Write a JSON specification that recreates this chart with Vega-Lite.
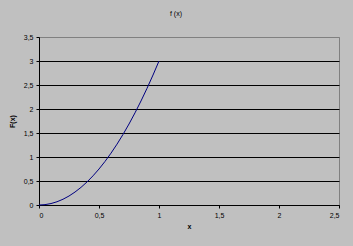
{
  "$schema": "https://vega.github.io/schema/vega-lite/v6.json",
  "width": 300,
  "height": 168,
  "autosize": {"type": "none"},
  "padding": {"left": 39, "top": 37, "right": 14, "bottom": 41},
  "background": "#c0c0c0",
  "config": {
    "locale": {"number": {"decimal": ",", "thousands": ".", "grouping": [3], "currency": ["", ""]}},
    "font": "Liberation Sans",
    "view": {"stroke": "#808080", "strokeWidth": 1, "fill": "#c0c0c0"},
    "axis": {
      "labelFont": "Liberation Sans",
      "labelFontSize": 7,
      "labelColor": "#000000",
      "titleFont": "Liberation Sans",
      "titleFontSize": 7,
      "titleFontWeight": "bold",
      "titleColor": "#000000",
      "domainColor": "#000000",
      "tickColor": "#000000",
      "tickSize": 3,
      "gridOpacity": 1,
      "gridWidth": 1
    }
  },
  "title": {
    "text": "f (x)",
    "fontSize": 7,
    "fontWeight": "normal",
    "font": "Liberation Sans",
    "color": "#000000",
    "anchor": "middle",
    "frame": "group",
    "dx": -13,
    "offset": 16
  },
  "data": {
    "values": [
      {"x": 0, "y": 0},
      {"x": 0.05, "y": 0.0075},
      {"x": 0.1, "y": 0.03},
      {"x": 0.15, "y": 0.0675},
      {"x": 0.2, "y": 0.12},
      {"x": 0.25, "y": 0.1875},
      {"x": 0.3, "y": 0.27},
      {"x": 0.35, "y": 0.3675},
      {"x": 0.4, "y": 0.48},
      {"x": 0.45, "y": 0.6075},
      {"x": 0.5, "y": 0.75},
      {"x": 0.55, "y": 0.9075},
      {"x": 0.6, "y": 1.08},
      {"x": 0.65, "y": 1.2675},
      {"x": 0.7, "y": 1.47},
      {"x": 0.75, "y": 1.6875},
      {"x": 0.8, "y": 1.92},
      {"x": 0.85, "y": 2.1675},
      {"x": 0.9, "y": 2.43},
      {"x": 0.95, "y": 2.7075},
      {"x": 1, "y": 3}
    ]
  },
  "mark": {"type": "line", "color": "#000080", "strokeWidth": 1},
  "encoding": {
    "x": {
      "field": "x",
      "type": "quantitative",
      "title": "x",
      "scale": {"domain": [0, 2.5], "nice": false},
      "axis": {"values": [0, 0.5, 1, 1.5, 2, 2.5], "format": ".1~f", "grid": false, "labelPadding": 3, "titlePadding": 4}
    },
    "y": {
      "field": "y",
      "type": "quantitative",
      "title": "F(x)",
      "scale": {"domain": [0, 3.5], "nice": false},
      "axis": {
        "values": [0, 0.5, 1, 1.5, 2, 2.5, 3, 3.5],
        "format": ".1~f",
        "grid": true,
        "gridColor": {"condition": {"test": "datum.value >= 3.5", "value": "#808080"}, "value": "#000000"},
        "labelPadding": 3,
        "titlePadding": 8
      }
    }
  }
}
